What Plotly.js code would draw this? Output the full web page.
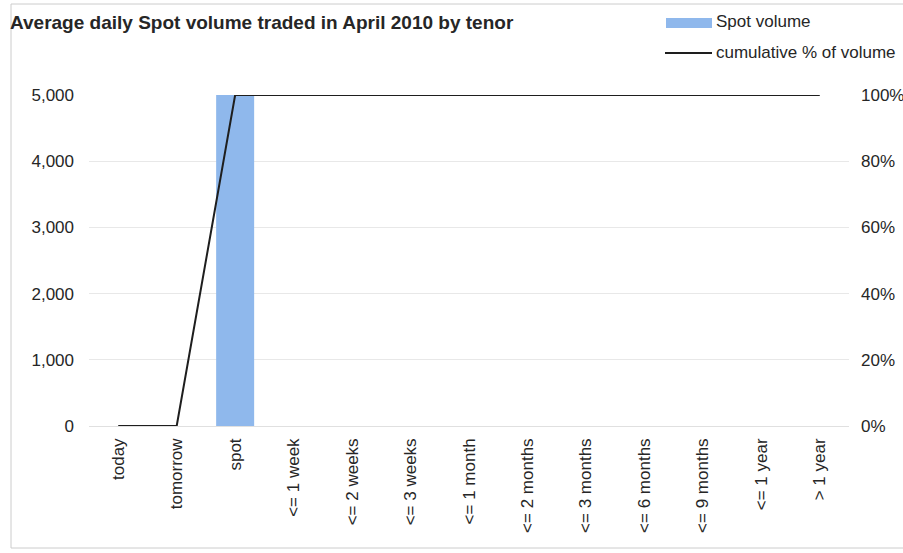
<!DOCTYPE html>
<html>
<head>
<meta charset="utf-8">
<script src="https://cdn.plot.ly/plotly-3.0.1.min.js"></script>
<style>html,body{margin:0;padding:0;background:#fff;}#chart{width:903px;height:553px;}</style>
</head>
<body>
<div id="chart"></div>
<script>
// ---- data ----
var tenors = ["today", "tomorrow", "spot", "<= 1 week", "<= 2 weeks", "<= 3 weeks", "<= 1 month", "<= 2 months", "<= 3 months", "<= 6 months", "<= 9 months", "<= 1 year", "> 1 year"];
var spotVolume = [0, 0, 5030, 0, 0, 0, 0, 0, 0, 0, 0, 0, 0];
var cumulativePct = [0, 0, 1, 1, 1, 1, 1, 1, 1, 1, 1, 1, 1];
var volumeTicks = [0, 1000, 2000, 3000, 4000, 5000];
var pctTicks = [0, 0.2, 0.4, 0.6, 0.8, 1.0];
var titleText = "Average daily Spot volume traded in April 2010 by tenor";
var barName = "Spot volume";
var lineName = "cumulative % of volume";

// ---- layout geometry (pixels) ----
var W = 903, H = 553;
var L = 89, R = 849, T = 95, B = 426;
function px(x) { return (x - L) / (R - L); }
function py(y) { return (B - y) / (B - T); }

var FONT = '"Liberation Sans", Arial, sans-serif';
var TXT = '#262626';
var BARC = '#8fb8ec';
var LINEC = '#1e1e1e';
var FS = 17;

var traces = [
  {
    type: 'bar', x: tenors, y: spotVolume, name: barName,
    marker: {color: BARC, line: {width: 0}}, cliponaxis: false,
    hoverinfo: 'x+y'
  },
  {
    type: 'scatter', mode: 'lines', x: tenors, y: cumulativePct, name: lineName,
    yaxis: 'y2', line: {color: LINEC, width: 2}, cliponaxis: false
  }
];

var layout = {
  width: W, height: H,
  margin: {l: L, r: W - R, t: T, b: H - B, pad: 0},
  paper_bgcolor: '#ffffff', plot_bgcolor: '#ffffff',
  font: {family: FONT, size: FS, color: TXT},
  showlegend: false,
  bargap: 0.35,
  title: {
    text: titleText, font: {family: FONT, size: 19, color: TXT, weight: 'bold'},
    x: 10 / W, xref: 'container', xanchor: 'left',
    y: 1 - 22 / H, yref: 'container', yanchor: 'middle'
  },
  xaxis: {
    type: 'category', tickangle: -90, showgrid: false, zeroline: false,
    showline: false, ticks: '', ticklabelstandoff: 8,
    tickfont: {family: FONT, size: FS, color: TXT}
  },
  yaxis: {
    range: [0, 5000], tickvals: volumeTicks, tickformat: ',d',
    showgrid: true, gridcolor: '#e8e8e8', gridwidth: 1,
    zeroline: true, zerolinecolor: '#e0e0e0', zerolinewidth: 1,
    showline: false, ticks: '', ticklabelstandoff: 14,
    tickfont: {family: FONT, size: FS, color: TXT}
  },
  yaxis2: {
    overlaying: 'y', side: 'right', range: [0, 1], tickvals: pctTicks,
    tickformat: '.0%', showgrid: false, zeroline: false, showline: false,
    ticks: '', ticklabelstandoff: 11,
    tickfont: {family: FONT, size: FS, color: TXT}
  },
  shapes: [
    {type: 'rect', xref: 'paper', yref: 'paper', x0: px(11), x1: px(906), y0: py(548), y1: py(4),
     line: {color: '#cccccc', width: 1}, fillcolor: 'rgba(0,0,0,0)', layer: 'below'},
    {type: 'rect', xref: 'paper', yref: 'paper', x0: px(666), x1: px(712), y0: py(28), y1: py(18),
     line: {width: 0}, fillcolor: BARC},
    {type: 'line', xref: 'paper', yref: 'paper', x0: px(665), x1: px(712), y0: py(53), y1: py(53),
     line: {color: LINEC, width: 2}}
  ],
  annotations: [
    {xref: 'paper', yref: 'paper', x: px(714), y: py(21), xanchor: 'left', yanchor: 'middle',
     text: barName, showarrow: false, font: {family: FONT, size: FS, color: TXT}},
    {xref: 'paper', yref: 'paper', x: px(714), y: py(53), xanchor: 'left', yanchor: 'middle',
     text: lineName, showarrow: false, font: {family: FONT, size: FS, color: TXT}}
  ]
};

Plotly.newPlot('chart', traces, layout, {displayModeBar: false, staticPlot: true});
</script>
</body>
</html>
